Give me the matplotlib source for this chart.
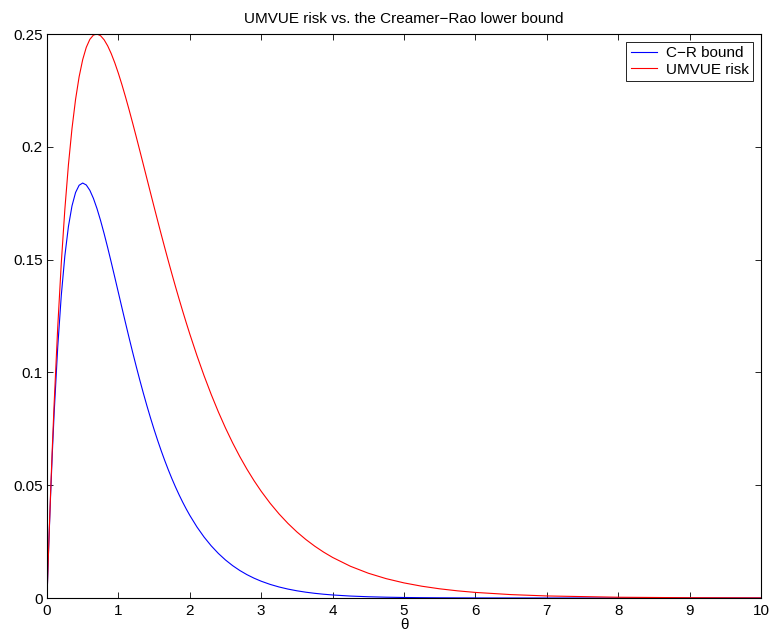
import matplotlib
matplotlib.use("Agg")
import matplotlib.pyplot as plt

plt.rcParams['font.family'] = ['Liberation Sans', 'DejaVu Sans']

theta = [0, 0.025, 0.05, 0.075, 0.1, 0.15, 0.2, 0.25, 0.3, 0.35, 0.4, 0.45, 0.5, 0.55,
         0.6, 0.65, 0.7, 0.75, 0.8, 0.85, 0.9, 0.95, 1.0, 1.05, 1.1, 1.15, 1.2, 1.25,
         1.3, 1.35, 1.4, 1.45, 1.5, 1.55, 1.6, 1.65, 1.7, 1.75, 1.8, 1.85, 1.9, 1.95,
         2.0, 2.1, 2.2, 2.3, 2.4, 2.5, 2.6, 2.7, 2.8, 2.9, 3.0, 3.125, 3.25, 3.375,
         3.5, 3.625, 3.75, 3.875, 4.0, 4.25, 4.5, 4.75, 5.0, 5.25, 5.5, 5.75, 6.0,
         6.5, 7.0, 8.0, 9.0, 10.0]

cr_bound = [0, 0.023781, 0.045242, 0.064553, 0.081873, 0.111123, 0.134064, 0.151633,
            0.164644, 0.173805, 0.179732, 0.182957, 0.183940, 0.183079, 0.180716,
            0.177146, 0.172618, 0.167348, 0.161518, 0.155281, 0.148769, 0.142091,
            0.135335, 0.128579, 0.121883, 0.115298, 0.108862, 0.102606, 0.096556,
            0.090728, 0.085134, 0.079783, 0.074681, 0.069826, 0.065219, 0.060857,
            0.056734, 0.052845, 0.049183, 0.045739, 0.042505, 0.039472, 0.036632,
            0.031492, 0.027009, 0.023120, 0.019752, 0.016845, 0.014344, 0.012196,
            0.010354, 0.008781, 0.007437, 0.006031, 0.004885, 0.003952, 0.003192,
            0.002574, 0.002074, 0.001670, 0.001342, 0.000863, 0.000555, 0.000356,
            0.000227, 0.000144, 0.000092, 0.000058, 0.000037, 0.000015, 0.0000058,
            0.0000009, 0.0000001, 0.0]

umvue_risk = [0, 0.024081, 0.046392, 0.067035, 0.086107, 0.119890, 0.148410, 0.172270,
              0.192006, 0.208103, 0.220991, 0.231058, 0.238651, 0.244079, 0.247617,
              0.249514, 0.249988, 0.249237, 0.247433, 0.244731, 0.241271, 0.237172,
              0.232544, 0.227482, 0.222068, 0.216378, 0.210476, 0.204420, 0.198258,
              0.192034, 0.185786, 0.179547, 0.173343, 0.167199, 0.161135, 0.155167,
              0.149310, 0.143577, 0.137975, 0.132513, 0.127198, 0.122032, 0.117020,
              0.107460, 0.098526, 0.090207, 0.082488, 0.075347, 0.068757, 0.062689,
              0.057112, 0.051995, 0.047308, 0.042007, 0.037271, 0.033047, 0.029285,
              0.025939, 0.022965, 0.020323, 0.017981, 0.014061, 0.010986, 0.008577,
              0.006693, 0.005220, 0.004070, 0.003173, 0.002473, 0.001503, 0.000911,
              0.000335, 0.000123, 0.000045]

xticks = [0, 1, 2, 3, 4, 5, 6, 7, 8, 9, 10]
yticks = [0, 0.05, 0.1, 0.15, 0.2, 0.25]
yticklabels = ['0', '0.05', '0.1', '0.15', '0.2', '0.25']

fig = plt.figure(figsize=(7.71, 6.35), dpi=100)
ax = fig.add_axes([47/771, 1 - 598/635, (761 - 47)/771, (598 - 34)/635])

ax.plot(theta, cr_bound, color='#0000ff', lw=0.8, label='C\u2212R bound')
ax.plot(theta, umvue_risk, color='#ff0000', lw=0.8, label='UMVUE risk')

ax.set_xlim(0, 10)
ax.set_ylim(0, 0.25)
ax.set_xticks(xticks)
ax.set_xticklabels([str(t) for t in xticks])
ax.set_yticks(yticks)
ax.set_yticklabels(yticklabels)
ax.tick_params(direction='in', length=4.5, width=0.6, labelsize=11, top=True, right=True)
ax.tick_params(axis='x', pad=4)
ax.tick_params(axis='y', pad=3)
for s in ax.spines.values():
    s.set_linewidth(0.8)

ax.set_xlabel('\u03b8', fontsize=11, labelpad=0)
ax.set_title('UMVUE risk vs. the Creamer\u2212Rao lower bound', fontsize=11, pad=8)

leg = ax.legend(loc='upper right', fontsize=11, fancybox=False, framealpha=1,
                edgecolor='black', borderaxespad=0.5, handlelength=1.7,
                handletextpad=0.6, borderpad=0.3, labelspacing=0.15)
leg.get_frame().set_linewidth(0.6)

fig.savefig('out.png', dpi=100)
